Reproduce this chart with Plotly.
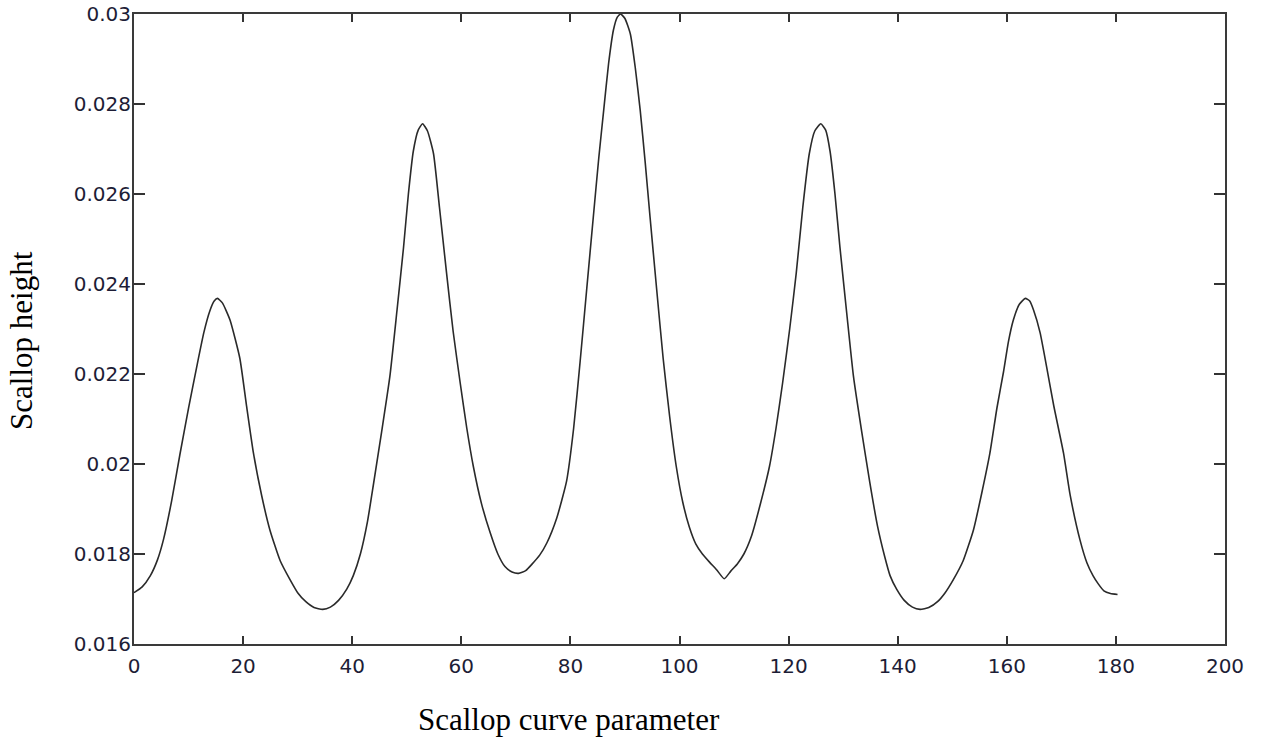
import plotly.graph_objects as go

# Scallop curve parameter (x) and scallop height (y)
x_param = [0, 1.5, 3, 4.3, 5.4, 6.9, 8.4, 10.0, 11.5, 12.8, 13.9, 14.7, 15.3, 16.2, 17.6,
           19.4, 20.6, 21.9, 23.4, 24.9, 26.8, 28.6, 30.0, 31.5, 33.0, 34.6, 36.0, 37.5,
           39.0, 40.2, 41.5, 42.8, 43.9, 45.4, 46.9, 48.2, 49.4, 50.3, 51.2, 52.1, 52.9,
           53.8, 54.9, 56.0, 57.3, 58.5, 59.8, 61.0, 62.2, 63.7, 65.3, 66.7, 68.0, 69.3,
           70.5, 71.8, 73.0, 74.4, 75.7, 77.5, 79.3, 80.6, 81.8, 83.0, 84.2, 85.2, 86.1,
           87.0, 87.9, 88.6, 89.2, 90.0, 91.0, 91.9, 92.8, 93.7, 94.6, 95.8, 97.0, 98.2,
           99.4, 100.6, 101.8, 103.0, 104.2, 105.5, 106.8, 108.2, 109.4, 110.6, 111.8,
           113.2, 114.8, 116.5, 117.7, 118.9, 120.2, 121.4, 122.6, 123.8, 124.8, 125.9,
           126.8, 127.6, 128.5, 129.4, 130.7, 131.9, 133.4, 134.9, 136.3, 137.6, 138.6,
           139.8, 141.2, 142.7, 144.1, 145.7, 147.3, 148.7, 150.2, 152.0, 153.9, 155.4,
           156.9, 158.2, 159.4, 160.3, 161.2, 162.3, 163.4, 164.2, 164.9, 166.1, 167.3,
           168.6, 170.4, 171.6, 173.4, 174.7, 175.8, 176.8, 177.8, 179.0, 180.3]
height = [0.01714, 0.01727, 0.01752, 0.01787, 0.01832, 0.01918, 0.02020, 0.02124,
          0.02216, 0.02292, 0.02340, 0.02362, 0.02368, 0.02358, 0.02320, 0.02235,
          0.02132, 0.02024, 0.01930, 0.01854, 0.01785, 0.01743, 0.01714, 0.01694,
          0.01681, 0.01677, 0.01682, 0.01697, 0.01722, 0.01752, 0.01800, 0.01872,
          0.01955, 0.02072, 0.02194, 0.02340, 0.02480, 0.02600, 0.02695, 0.02742,
          0.02756, 0.02740, 0.02690, 0.02570, 0.02424, 0.02295, 0.02180, 0.02080,
          0.01995, 0.01912, 0.01847, 0.01800, 0.01772, 0.01760, 0.01757, 0.01763,
          0.01778, 0.01798, 0.01825, 0.01880, 0.01962, 0.02080, 0.02230, 0.02390,
          0.02549, 0.02680, 0.02786, 0.02890, 0.02965, 0.02993, 0.03000, 0.02990,
          0.02955, 0.02880, 0.02786, 0.02672, 0.02549, 0.02390, 0.02235, 0.02105,
          0.01995, 0.01915, 0.01860, 0.01822, 0.01800, 0.01782, 0.01765, 0.01745,
          0.01762, 0.01778, 0.01800, 0.01840, 0.01910, 0.01995, 0.02080, 0.02180,
          0.02300, 0.02424, 0.02570, 0.02690, 0.02740, 0.02756, 0.02742, 0.02695,
          0.02600, 0.02483, 0.02330, 0.02194, 0.02072, 0.01958, 0.01862, 0.01795,
          0.01752, 0.01722, 0.01697, 0.01682, 0.01677, 0.01681, 0.01694, 0.01714,
          0.01743, 0.01785, 0.01854, 0.01935, 0.02024, 0.02125, 0.02205, 0.02272,
          0.02320, 0.02355, 0.02368, 0.02362, 0.02342, 0.02292, 0.02216, 0.02130,
          0.02024, 0.01932, 0.01832, 0.01780, 0.01752, 0.01733, 0.01718, 0.01712,
          0.01710]

x_ticks = [0, 20, 40, 60, 80, 100, 120, 140, 160, 180, 200]
y_ticks = [0.016, 0.018, 0.02, 0.022, 0.024, 0.026, 0.028, 0.03]
y_tick_text = ["0.016", "0.018", "0.02", "0.022", "0.024", "0.026", "0.028", "0.03"]

fig = go.Figure()
fig.add_trace(go.Scatter(x=x_param, y=height, mode="lines",
                         line=dict(color="#2a2a2a", width=1.6, shape="spline", smoothing=0.5),
                         showlegend=False, hoverinfo="skip"))

tick_font = dict(family="DejaVu Sans", size=20, color="#1d1d36")
fig.update_xaxes(range=[0, 200], tickvals=x_ticks, ticks="inside", ticklen=8, tickwidth=2,
                 tickcolor="#333", showline=True, linecolor="#3a3a3a", linewidth=2,
                 mirror="ticks", showgrid=False, zeroline=False, tickfont=tick_font,
                 automargin=False, ticklabelstandoff=3)
fig.update_yaxes(range=[0.016, 0.03], tickvals=y_ticks, ticktext=y_tick_text, ticks="inside",
                 ticklen=11, tickwidth=2, tickcolor="#333", showline=True,
                 linecolor="#3a3a3a", linewidth=2, mirror="ticks", showgrid=False,
                 zeroline=False, tickfont=tick_font, automargin=False,
                 ticklabelstandoff=-3)

title_font = dict(family="Liberation Serif, Times New Roman, serif", size=31, color="#000")
fig.add_annotation(text="Scallop curve parameter", xref="paper", yref="paper",
                   x=0.399, y=-0.12, showarrow=False, font=title_font,
                   xanchor="center", yanchor="middle")
fig.add_annotation(text="Scallop height", xref="paper", yref="paper",
                   x=-0.1027, y=0.4826, showarrow=False, font=title_font, textangle=-90,
                   xanchor="center", yanchor="middle")

fig.update_layout(width=1263, height=743, plot_bgcolor="white", paper_bgcolor="white",
                  margin=dict(l=134, r=38, t=14, b=99))
fig.write_html("out.html")
